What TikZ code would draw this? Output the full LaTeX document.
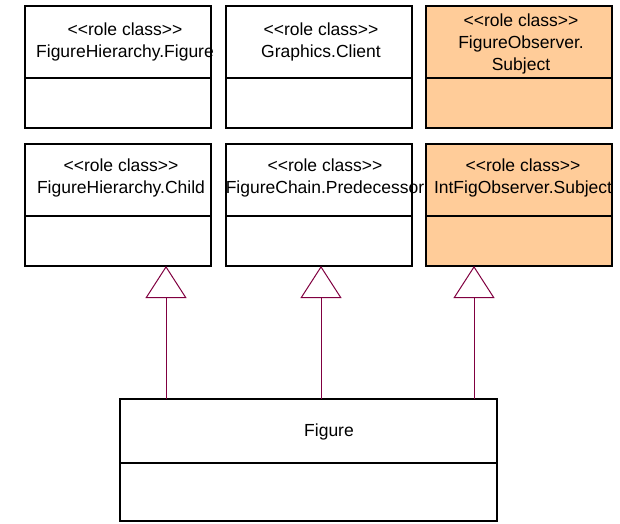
\documentclass[tikz,border=0pt]{standalone}
\usepackage{fontspec}
\setmainfont[Ligatures=NoCommon]{Liberation Sans}
\usetikzlibrary{arrows.meta}
\definecolor{peach}{HTML}{FFCC99}
\definecolor{linkred}{HTML}{800040}
\newcommand{\rolecls}{{<}{<}role class{>}{>}}
\begin{document}
\begin{tikzpicture}[x=1pt,y=-1pt,
  umlbox/.style={draw=black, line width=1.6pt, minimum width=186pt, minimum height=122pt, anchor=north west, inner sep=0pt, outer sep=0pt},
  divider/.style={draw=black, line width=1.6pt},
  lbl/.style={font=\fontsize{17.5}{22}\selectfont, align=center, inner sep=0pt},
  inh/.style={draw=linkred, line width=1pt, -{Triangle[open, length=32pt, width=41pt, fill=white]}}]
\useasboundingbox (0,0) rectangle (620,523);
% top row
\node[umlbox] (b1) at (25,6) {};
\node[umlbox] (b2) at (226,6) {};
\node[umlbox, fill=peach] (b3) at (426,6) {};
% second row
\node[umlbox] (b4) at (25,144) {};
\node[umlbox] (b5) at (226,144) {};
\node[umlbox, fill=peach] (b6) at (426,144) {};
% figure
\node[umlbox, minimum width=377pt] (fig) at (120,399) {};
% dividers
\foreach \b in {b1,b2,b3}{\draw[divider] ([yshift=-72pt]\b.north west) -- ([yshift=-72pt]\b.north east);}
\foreach \b in {b4,b5,b6}{\draw[divider] ([yshift=-72pt]\b.north west) -- ([yshift=-72pt]\b.north east);}
\draw[divider] ([yshift=-64pt]fig.north west) -- ([yshift=-64pt]fig.north east);
% labels
\node[lbl] (t1) at (125,42) {\rolecls\\FigureHierarchy.Figure};
\node[lbl] (t2) at (321,42) {\rolecls\\Graphics.Client};
\node[lbl] (t3) at (521,44) {\rolecls\\FigureObserver.\\Subject};
\node[lbl] (t4) at (121,178) {\rolecls\\FigureHierarchy.Child};
\node[lbl] (t5) at (325,178) {\rolecls\\FigureChain.Predecessor};
\node[lbl] (t6) at (523,178) {\rolecls\\IntFigObserver.Subject};
\node[lbl] (tf) at (329,432) {Figure};
% inheritance connectors
\coordinate (x1) at (166,0);
\coordinate (x2) at (321,0);
\coordinate (x3) at (474,0);
\draw[inh] (fig.north -| x1) -- (b4.south -| x1);
\draw[inh] (fig.north -| x2) -- (b5.south -| x2);
\draw[inh] (fig.north -| x3) -- (b6.south -| x3);
\end{tikzpicture}
\end{document}
